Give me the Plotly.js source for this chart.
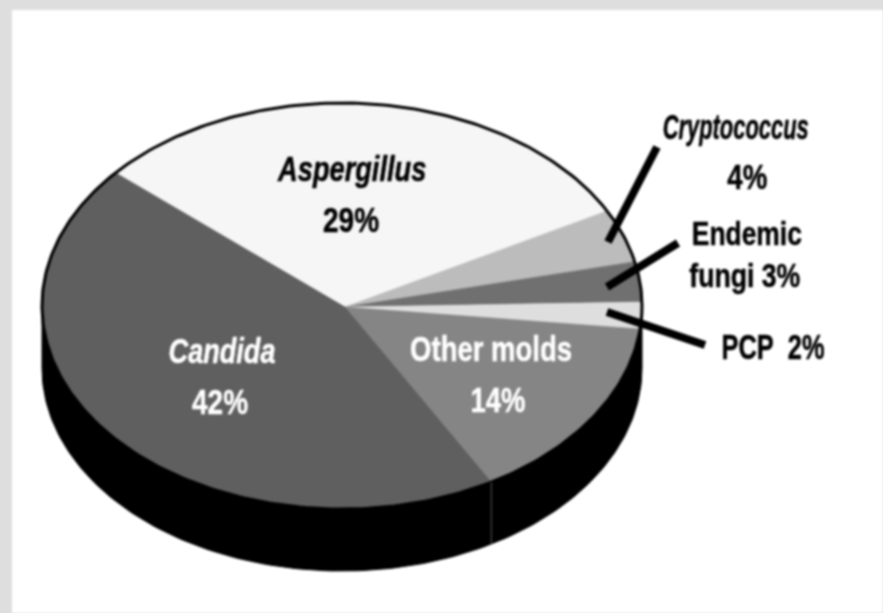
<!DOCTYPE html>
<html>
<head>
<meta charset="utf-8">
<script src="https://cdn.plot.ly/plotly-3.0.1.min.js"></script>
<style>
html,body{margin:0;padding:0;background:#dedede;overflow:hidden}
#chart{width:883px;height:613px;filter:blur(0.8px)}
</style>
</head>
<body>
<div id="chart"></div>
<script>
var categories = ["Aspergillus","Cryptococcus","Endemic fungi","PCP","Other molds","Candida"];
var values = [29,4,3,2,14,42];
var colors = ["#f6f6f6","#bcbcbc","#707070","#dedede","#858585","#5f5f5f"];

var W = 883, H = 613;
var cx = 342, cy = 306, rx = 300, ry = 203, depth = 62;
var hubX = 345, hubY = 307;
var startDeg = 139;
var FONT = '"Liberation Sans",Arial,sans-serif';

function ex(d){return cx + rx*Math.cos(d*Math.PI/180);}
function ey(d,off){return cy - ry*Math.sin(d*Math.PI/180) + (off||0);}

var traces = [];

// side wall
var sx=[], sy=[];
for (var d=0; d>=-180; d--){ sx.push(ex(d)); sy.push(ey(d)); }
for (var d=-180; d<=0; d++){ sx.push(ex(d)); sy.push(ey(d,depth)); }
sx.push(sx[0]); sy.push(sy[0]);
traces.push({type:"scatter",mode:"lines",x:sx,y:sy,fill:"toself",fillcolor:"#000",line:{color:"#000",width:1},hoverinfo:"skip",showlegend:false});

// slices, clockwise
var total = values.reduce(function(a,b){return a+b;},0);
var ang = startDeg, boundaries = [];
values.forEach(function(v,i){
  var span = v/total*360, xs=[hubX], ys=[hubY], n=Math.ceil(span);
  for (var k=0;k<=n;k++){ var a=ang-span*k/n; xs.push(ex(a)); ys.push(ey(a)); }
  xs.push(hubX); ys.push(hubY);
  traces.push({type:"scatter",mode:"lines",x:xs,y:ys,fill:"toself",fillcolor:colors[i],line:{color:colors[i],width:0.5},name:categories[i],text:categories[i]+" "+v+"%",hoverinfo:"text",showlegend:false});
  ang -= span;
  boundaries.push(ang);
});

// rim outline
var ox=[], oy=[];
for (var d=0;d<=360;d++){ ox.push(ex(d)); oy.push(ey(d)); }
traces.push({type:"scatter",mode:"lines",x:ox,y:oy,line:{color:"#000",width:3},hoverinfo:"skip",showlegend:false});

var squeezeWidths = [];
function label(x,y,text,color,size,italic,width){
  squeezeWidths.push(width);
  return {x:x,y:y,xref:"x",yref:"y",text:italic?"<b><i>"+text+"</i></b>":"<b>"+text+"</b>",showarrow:false,
    xanchor:"center",yanchor:"middle",font:{family:FONT,size:size,color:color}};
}
function leader(x0,y0,x1,y1){
  return {type:"line",xref:"x",yref:"y",x0:x0,y0:y0,x1:x1,y1:y1,line:{color:"#000",width:8}};
}

var rimEdge = boundaries[4]; // Other molds / Candida seam on the wall
var layout = {
  width:W,height:H,
  margin:{l:12,t:10,r:0,b:0,pad:0},
  paper_bgcolor:"#dedede",plot_bgcolor:"#ffffff",
  xaxis:{range:[12,W],visible:false,fixedrange:true},
  yaxis:{range:[H,10],visible:false,fixedrange:true},
  shapes:[
    {type:"line",xref:"x",yref:"y",x0:ex(rimEdge),y0:ey(rimEdge),x1:ex(rimEdge),y1:ey(rimEdge,depth),line:{color:"#555",width:1},layer:"above"},
    leader(657,147,608,242),
    leader(678,243,607,287),
    leader(705,345,607,312)
  ],
  annotations:[
    label(352,168,"Aspergillus","#000",35,true,149),
    label(351,219,"29%","#000",35,false,56),
    label(222,350,"Candida","#fff",35,true,107),
    label(220,401,"42%","#fff",35,false,56),
    label(491,348,"Other molds","#fff",35,false,162),
    label(498,399,"14%","#fff",35,false,55),
    label(735,126,"Cryptococcus","#000",35,true,146),
    label(747,176,"4%","#000",35,false,40),
    label(747,233,"Endemic","#000",34,false,110),
    label(745,275,"fungi 3%","#000",34,false,111),
    label(773,346,"PCP&nbsp;&nbsp;2%","#000",35,false,103)
  ],
  showlegend:false
};
Plotly.newPlot("chart",traces,layout,{displayModeBar:false}).then(function(){
  var nodes = document.querySelectorAll("#chart .annotation-text");
  nodes.forEach(function(t,i){
    var box = t.getBBox();
    var mid = box.x + box.width/2;
    var s = squeezeWidths[i]/box.width;
    t.setAttribute("transform","translate("+mid+",0) scale("+s+",1) translate("+(-mid)+",0)");
    t.style.stroke = t.style.fill;
    t.style.strokeWidth = "0.5px";
  });
});
</script>
</body>
</html>
